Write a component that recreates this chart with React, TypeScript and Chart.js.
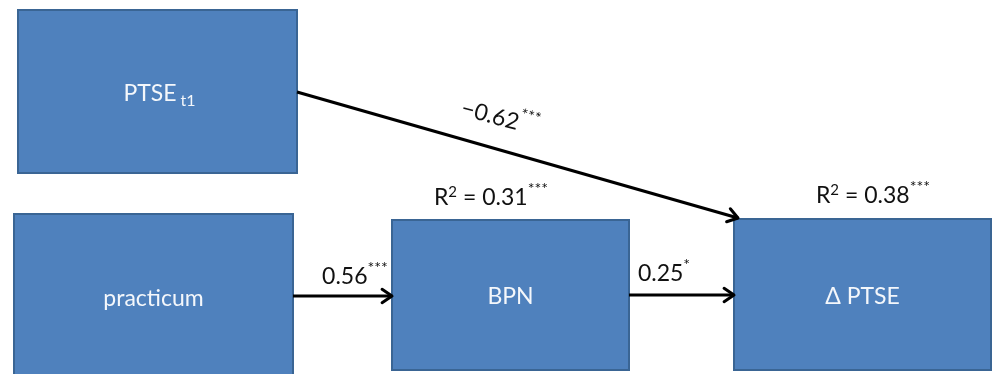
import { useEffect, useRef } from "react";
import { Chart, registerables } from "chart.js";

Chart.register(...registerables);

// Nodes of the path model
const nodeNames = ["PTSE", "practicum", "BPN", "Δ PTSE"];
const nodeSubs = ["t1", "", "", ""];
const nodeLeft = [18, 14, 392, 734];
const nodeRight = [297, 293, 629, 991];
const nodeTop = [10, 214, 220, 219];
const nodeBottom = [173, 380, 370, 370];

// Paths (arrows) between nodes
const pathCoef = ["−0.62", "0.56", "0.25"];
const pathSig = ["***", "***", "*"];
const pathStartX = [297, 293, 629];
const pathStartY = [92, 296, 295];
const pathEndX = [738, 392, 734];
const pathEndY = [218, 296, 295];
const pathLabelX = [500, 355, 664];
const pathLabelY = [118, 277, 274];
const pathLabelAngle = [15, 0, 0];

// Explained variance labels
const r2Values = ["0.31", "0.38"];
const r2Sig = ["***", "***"];
const r2LabelX = [491, 873];
const r2LabelY = [198, 196];

const FONT = "Lato, 'Open Sans', 'DejaVu Sans', sans-serif";

type Part = { text: string; size: number; dy: number };

function drawRich(ctx: CanvasRenderingContext2D, x: number, y: number, parts: Part[], color: string, angle = 0) {
  ctx.save();
  ctx.translate(x, y);
  if (angle) ctx.rotate((angle * Math.PI) / 180);
  ctx.fillStyle = color;
  ctx.textBaseline = "middle";
  ctx.textAlign = "left";
  let total = 0;
  const widths = parts.map((p) => {
    ctx.font = `${p.size}px ${FONT}`;
    const w = ctx.measureText(p.text).width;
    total += w;
    return w;
  });
  let cx = -total / 2;
  parts.forEach((p, i) => {
    ctx.font = `${p.size}px ${FONT}`;
    ctx.fillText(p.text, cx, p.dy);
    cx += widths[i];
  });
  ctx.restore();
}

const diagramPlugin = {
  id: "diagram",
  beforeDatasetsDraw(chart: any) {
    const { ctx, scales } = chart;
    const xs = scales.x;
    const ys = scales.y;
    ctx.save();
    nodeNames.forEach((_, i) => {
      const x0 = xs.getPixelForValue(nodeLeft[i]);
      const x1 = xs.getPixelForValue(nodeRight[i]);
      const y0 = ys.getPixelForValue(nodeTop[i]);
      const y1 = ys.getPixelForValue(nodeBottom[i]);
      ctx.fillStyle = "#4F81BD";
      ctx.fillRect(x0, y0, x1 - x0, y1 - y0);
      ctx.strokeStyle = "#3A6594";
      ctx.lineWidth = 2;
      ctx.strokeRect(x0, y0, x1 - x0, y1 - y0);
    });
    ctx.restore();
  },
  afterDatasetsDraw(chart: any) {
    const { ctx, scales } = chart;
    const xs = scales.x;
    const ys = scales.y;
    ctx.save();
    // arrowheads
    pathCoef.forEach((_, i) => {
      const sx = xs.getPixelForValue(pathStartX[i]);
      const sy = ys.getPixelForValue(pathStartY[i]);
      const ex = xs.getPixelForValue(pathEndX[i]);
      const ey = ys.getPixelForValue(pathEndY[i]);
      const a = Math.atan2(ey - sy, ex - sx);
      const len = 12;
      const spread = 0.6;
      ctx.strokeStyle = "#000";
      ctx.lineWidth = 3;
      ctx.lineCap = "round";
      ctx.lineJoin = "round";
      ctx.beginPath();
      ctx.moveTo(ex - len * Math.cos(a - spread), ey - len * Math.sin(a - spread));
      ctx.lineTo(ex, ey);
      ctx.lineTo(ex - len * Math.cos(a + spread), ey - len * Math.sin(a + spread));
      ctx.stroke();
    });
    // node labels
    nodeNames.forEach((name, i) => {
      const cx = xs.getPixelForValue((nodeLeft[i] + nodeRight[i]) / 2);
      const cy = ys.getPixelForValue(Math.min((nodeTop[i] + nodeBottom[i]) / 2, 297));
      const parts: Part[] = [{ text: name, size: 23, dy: 0 }];
      if (nodeSubs[i]) parts.push({ text: " " + nodeSubs[i], size: 16, dy: 7 });
      drawRich(ctx, cx + (nodeSubs[i] ? 2 : 0), cy + 2, parts, "#f4f7fb");
    });
    // path coefficient labels
    pathCoef.forEach((c, i) => {
      drawRich(
        ctx,
        xs.getPixelForValue(pathLabelX[i]),
        ys.getPixelForValue(pathLabelY[i]),
        [
          { text: c, size: 23, dy: 0 },
          { text: pathSig[i], size: 16, dy: -9 },
        ],
        "#111111",
        pathLabelAngle[i]
      );
    });
    // R² labels
    r2Values.forEach((v, i) => {
      drawRich(
        ctx,
        xs.getPixelForValue(r2LabelX[i]),
        ys.getPixelForValue(r2LabelY[i]),
        [
          { text: "R", size: 23, dy: 0 },
          { text: "2", size: 15, dy: -6 },
          { text: " = " + v, size: 23, dy: 0 },
          { text: r2Sig[i], size: 16, dy: -9 },
        ],
        "#111111"
      );
    });
    ctx.restore();
  },
};

export default function App() {
  const canvasRef = useRef<HTMLCanvasElement | null>(null);
  useEffect(() => {
    document.body.style.margin = "0";
    const canvas = canvasRef.current;
    if (!canvas) return;
    const datasets = pathCoef.map((_, i) => ({
      label: pathCoef[i],
      data: [
        { x: pathStartX[i], y: pathStartY[i] },
        { x: pathEndX[i], y: pathEndY[i] },
      ],
      showLine: true,
      borderColor: "#000000",
      borderWidth: 3,
      pointRadius: 0,
      fill: false,
      clip: false as any,
    }));
    const chart = new Chart(canvas, {
      type: "scatter",
      data: { datasets },
      options: {
        animation: false,
        responsive: true,
        maintainAspectRatio: false,
        layout: { padding: 0 },
        plugins: { legend: { display: false }, tooltip: { enabled: false } },
        scales: {
          x: { type: "linear", min: 0, max: 993, display: false },
          y: { type: "linear", min: 0, max: 374, reverse: true, display: false },
        },
      },
      plugins: [diagramPlugin],
    });
    return () => chart.destroy();
  }, []);
  return (
    <div style={{ position: "fixed", left: 0, top: 0, width: 993, height: 374, background: "#ffffff" }}>
      <canvas ref={canvasRef} />
    </div>
  );
}
